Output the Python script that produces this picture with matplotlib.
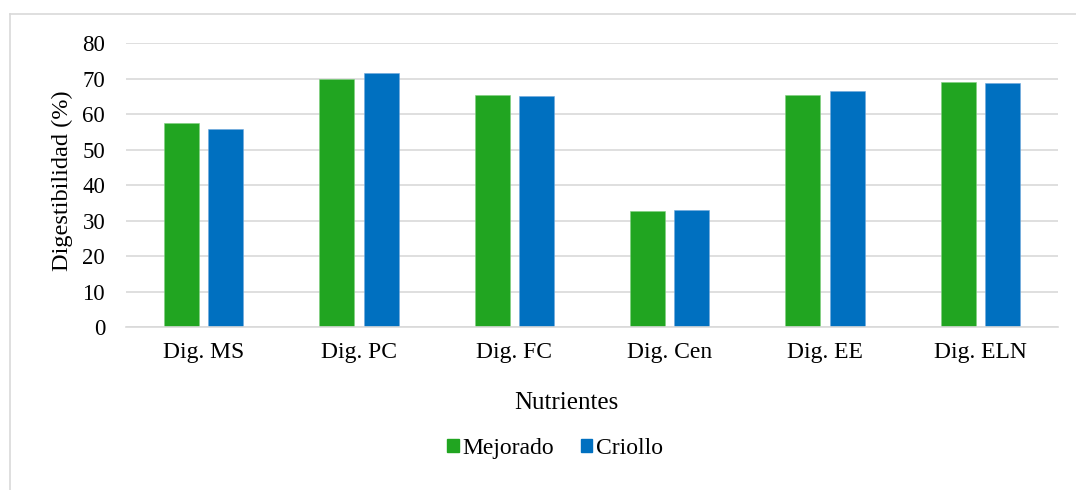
import matplotlib
matplotlib.use("Agg")
import matplotlib.pyplot as plt
from matplotlib.lines import Line2D
from matplotlib.patches import Patch
import numpy as np

categories = ["Dig. MS", "Dig. PC", "Dig. FC", "Dig. Cen", "Dig. EE", "Dig. ELN"]
mejorado = [57.6, 69.9, 65.5, 32.7, 65.5, 69.1]
criollo = [55.9, 71.6, 65.2, 33.0, 66.6, 68.9]
series_names = ["Mejorado", "Criollo"]
colors = ["#21a521", "#0070c0"]
yticks = [0, 10, 20, 30, 40, 50, 60, 70, 80]

plt.rcParams["font.family"] = ["Liberation Serif", "DejaVu Serif"]
plt.rcParams["font.size"] = 17

W, H = 1076, 490
fig = plt.figure(figsize=(W / 100, H / 100), dpi=100)

# plot area in pixel terms
left, right, top, bottom = 126, 1058, 43.3, 327
ax = fig.add_axes([left / W, 1 - bottom / H, (right - left) / W, (bottom - top) / H])

x = np.arange(len(categories))
bw = 0.225
off = 0.142
ax.bar(x - off, mejorado, bw, color=colors[0], edgecolor="#7fd07f", linewidth=0.4, zorder=3)
ax.bar(x + off, criollo, bw, color=colors[1], edgecolor="#6fa8dc", linewidth=0.4, zorder=3)

ax.set_xlim(-0.5, len(categories) - 0.5)
ax.set_ylim(0, 80)
ax.set_yticks(yticks)
ax.set_xticks(x, categories)
ax.grid(axis="y", color="#d9d9d9", linewidth=1.2, zorder=0)
ax.tick_params(axis="y", length=0, pad=15, labelsize=16.5)
ax.tick_params(axis="x", length=0, pad=11, labelsize=17)
for s in ["top", "right", "left"]:
    ax.spines[s].set_visible(False)
ax.spines["bottom"].set_color("#d9d9d9")
ax.spines["bottom"].set_linewidth(1.2)
ax.spines["bottom"].set_zorder(4)

ax.set_ylabel("Digestibilidad (%)", fontsize=17.5)
ax.yaxis.set_label_coords(73 / W, 1 - 181 / H, transform=fig.transFigure)
fig.text(566 / W, 1 - 403 / H, "Nutrientes", ha="center", va="center", fontsize=18)

handles = [Patch(color=c) for c in colors]
fig.legend(handles, series_names, loc="center", ncol=2,
           bbox_to_anchor=(555 / W, 1 - 448 / H), frameon=False,
           handlelength=0.47, handleheight=0.47, handletextpad=0.15,
           columnspacing=1.15)

# chart border (top and left edges visible)
fig.add_artist(Line2D([10 / W, 10 / W], [0, 1 - 14 / H], color="#d9d9d9", linewidth=1.2))
fig.add_artist(Line2D([10 / W, 1], [1 - 14 / H, 1 - 14 / H], color="#d9d9d9", linewidth=1.2))

fig.savefig("out.png", dpi=100)
